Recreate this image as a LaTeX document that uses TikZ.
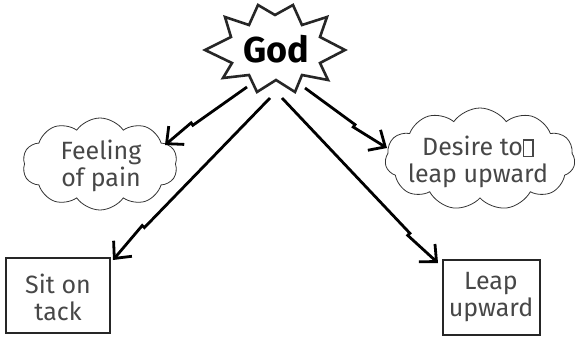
\documentclass[tikz,border=0pt]{standalone}
\usepackage{fontspec}
\setmainfont{Fira Sans}
\usetikzlibrary{shapes.symbols,arrows.meta,calc}
\tikzset{
  lbl/.style={font=\fontsize{25}{27}\selectfont, align=center, text=black!72, inner sep=0pt},
  thought/.style={cloud, draw=black!80, line width=0.8pt, cloud puffs=#1, cloud puff arc=110, inner sep=0pt},
  actbox/.style={draw=black!85, line width=2.4pt},
  bolt/.style={line width=2.8pt, -{Straight Barb[length=13pt,width=24pt,line width=2.8pt]}},
  burst/.style={draw=black!85, line width=2.6pt, line join=miter, fill=white}
}
\newcommand\boltline[3]{\draw[bolt] (#1) -- ($(#1)!#3!(#2)$) coordinate (k) -- ($(k)!3pt!-90:(#2)$) -- (#2);}
\newcommand\tofu{{\setlength\fboxsep{0pt}\setlength\fboxrule{1.4pt}\fbox{\rule{0pt}{15pt}\rule{8pt}{0pt}}}}
\begin{document}
\begin{tikzpicture}[x=1pt,y=-1pt]
\useasboundingbox (0,0) rectangle (575,340);
% starburst
\draw[burst] (258,5) -- (275,15) -- (293,5) -- (302,25) -- (327,17) -- (320,37) -- (345,50) -- (320,63) -- (328,80) -- (302,75) -- (295,92) -- (276,80) -- (257,92) -- (249,75) -- (223,78) -- (232,63) -- (205,50) -- (231,37) -- (225,17) -- (249,25) -- cycle;
\node[font=\fontsize{36}{36}\selectfont\bfseries, inner sep=0pt] (god) at (276,49) {God};
% clouds
\node[thought=10, minimum width=155pt, minimum height=92pt] (feel) at (100,164) {};
\node[lbl] (feeltxt) at (101,166) {Feeling\\of pain};
\node[thought=11, minimum width=190pt, minimum height=102pt] (desire) at (480,159) {};
\node[lbl] (desiretxt) at (478,162) {Desire to\tofu\\leap upward};
% boxes
\draw[actbox] (6,258) rectangle (110,333);
\node[lbl] (sit) at (58,297) {Sit on\\tack};
\draw[actbox] (443,260) rectangle (540,335);
\node[lbl] (leap) at (491,297) {Leap\\upward};
% connectors
\coordinate (s1) at (247,87); \coordinate (e1) at (165,145);
\coordinate (s2) at (270,98); \coordinate (e2) at (113,260);
\coordinate (s3) at (305,88); \coordinate (e3) at (387,148);
\coordinate (s4) at (282,98); \coordinate (e4) at (438,263);
\boltline{s1}{e1}{0.66}
\boltline{s2}{e2}{0.8}
\boltline{s3}{e3}{0.61}
\boltline{s4}{e4}{0.82}
\end{tikzpicture}
\end{document}
